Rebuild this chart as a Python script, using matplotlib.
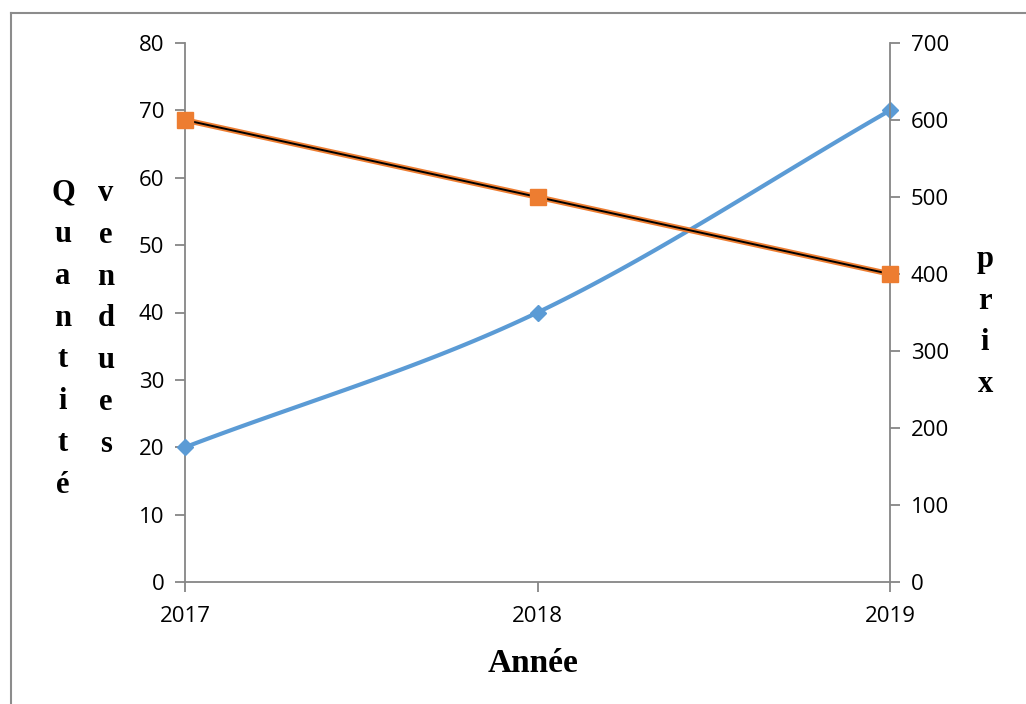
import numpy as np
import matplotlib
matplotlib.use("Agg")
import matplotlib.pyplot as plt
from matplotlib.lines import Line2D

years = [2017, 2018, 2019]
quantite = [20, 40, 70]
prix = [600, 500, 400]
left_ticks = [0, 10, 20, 30, 40, 50, 60, 70, 80]
right_ticks = [0, 100, 200, 300, 400, 500, 600, 700]

blue = "#5B9BD5"
orange = "#ED7D31"
axis_gray = "#868686"

W, H = 1026, 704
fig = plt.figure(figsize=(W / 100, H / 100), dpi=100)
ax = fig.add_axes([185 / W, 1 - 582 / H, (890 - 185) / W, (582 - 43) / H])
ax2 = ax.twinx()

def catmull_rom(xs, ys, n=40):
    xs = np.asarray(xs, float); ys = np.asarray(ys, float)
    px = np.concatenate([[2 * xs[0] - xs[1]], xs, [2 * xs[-1] - xs[-2]]])
    py = np.concatenate([[2 * ys[0] - ys[1]], ys, [2 * ys[-1] - ys[-2]]])
    ox, oy = [], []
    for i in range(1, len(px) - 2):
        t = np.linspace(0, 1, n)
        for P, out in ((px, ox), (py, oy)):
            p0, p1, p2, p3 = P[i - 1], P[i], P[i + 1], P[i + 2]
            out.extend(0.5 * ((2 * p1) + (-p0 + p2) * t + (2 * p0 - 5 * p1 + 4 * p2 - p3) * t ** 2
                              + (-p0 + 3 * p1 - 3 * p2 + p3) * t ** 3))
    return np.array(ox), np.array(oy)

sx, sy = catmull_rom(years, quantite)
ax.plot(sx, sy, color=blue, lw=3, solid_capstyle="round", zorder=3, clip_on=False)
ax.plot(years, quantite, linestyle="none", marker="D", markersize=8, color=blue, zorder=4, clip_on=False)

ax2.plot(years, prix, color=orange, lw=4, zorder=3, clip_on=False)
ax2.plot(years, prix, color="black", lw=1.4, zorder=4, clip_on=False)
ax2.plot(years, prix, linestyle="none", marker="s", markersize=11, color=orange, zorder=5, clip_on=False)

ax.set_xlim(2017, 2019)
ax.set_ylim(0, 80)
ax2.set_ylim(0, 700)
ax.set_xticks(years)
ax.set_xticklabels([str(y) for y in years])
ax.set_yticks(left_ticks)
ax2.set_yticks(right_ticks)

for a in (ax, ax2):
    for s in a.spines.values():
        s.set_visible(False)
    a.tick_params(colors=axis_gray, labelcolor="black", labelsize=16, width=1.3, length=7)
    for lab in a.get_xticklabels() + a.get_yticklabels():
        lab.set_fontfamily("Open Sans")

ax.spines["left"].set_visible(True)
ax.spines["left"].set_color(axis_gray)
ax.spines["left"].set_linewidth(1.3)
ax.spines["bottom"].set_visible(True)
ax.spines["bottom"].set_color(axis_gray)
ax.spines["bottom"].set_linewidth(1.3)
ax2.spines["right"].set_visible(True)
ax2.spines["right"].set_color(axis_gray)
ax2.spines["right"].set_linewidth(1.3)
ax.tick_params(axis="y", pad=8)
ax2.tick_params(axis="y", pad=8)
ax.tick_params(axis="x", pad=10)
ax.set_facecolor("none")

serif = "Liberation Serif"
fs = 22
ls = 1.58
fig.text(63 / W, 1 - 339 / H, "\n".join("Quantité"), ha="center", va="center",
         fontsize=fs, fontweight="bold", family=serif, linespacing=ls)
fig.text(106 / W, 1 - 319 / H, "\n".join("vendues"), ha="center", va="center",
         fontsize=fs, fontweight="bold", family=serif, linespacing=ls)
fig.text(985 / W, 1 - 322 / H, "\n".join("prix"), ha="center", va="center",
         fontsize=fs, fontweight="bold", family=serif, linespacing=ls)
fig.text(533 / W, 1 - 663 / H, "Année", ha="center", va="center",
         fontsize=24, fontweight="bold", family=serif)

fig.add_artist(Line2D([11 / W, 11 / W], [0, 1 - 13 / H], transform=fig.transFigure, color="#8c8c8c", lw=1.5))
fig.add_artist(Line2D([11 / W, 1], [1 - 13 / H, 1 - 13 / H], transform=fig.transFigure, color="#8c8c8c", lw=1.5))

fig.savefig("out.png", dpi=100)
